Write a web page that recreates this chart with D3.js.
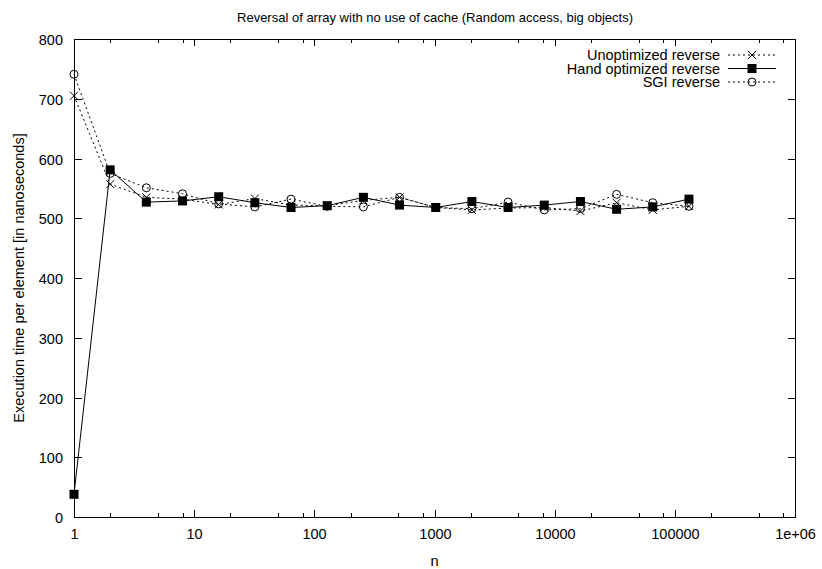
<!DOCTYPE html>
<html>
<head>
<meta charset="utf-8">
<script src="https://cdn.jsdelivr.net/npm/d3@7"></script>
<style>
  body { margin: 0; background: #fff; }
  svg { display: block; font-family: "Liberation Sans", Arial, sans-serif; }
</style>
</head>
<body>
<div id="chart"></div>
<script>
var title = "Reversal of array with no use of cache (Random access, big objects)";
var sizes = [1, 2, 4, 8, 16, 32, 64, 128, 256, 512, 1024, 2048, 4096, 8192, 16384, 32768, 65536, 131072];
var unoptimized = [705, 557, 535, 532, 523, 533, 522, 521, 530, 535, 518, 514, 517, 518, 512, 526, 514, 520];
var handOptimized = [38, 581, 527, 529, 536, 526, 518, 521, 535, 522, 518, 528, 518, 522, 528, 515, 519, 532];
var sgi = [741, 575, 551, 541, 524, 519, 532, 520, 519, 535, 518, 516, 527, 514, 516, 540, 526, 520];
var xTicks = [1, 10, 100, 1000, 10000, 100000, 1000000];
var xTickLabels = ["1", "10", "100", "1000", "10000", "100000", "1e+06"];
var yTicks = [0, 100, 200, 300, 400, 500, 600, 700, 800];
var minorSteps = [2, 5, 8];

var series = [
    {name: "Unoptimized reverse", values: unoptimized, dash: "2,3", marker: "cross"},
    {name: "Hand optimized reverse", values: handOptimized, dash: null, marker: "square"},
    {name: "SGI reverse", values: sgi, dash: "2,3", marker: "circle"}
];

var width = 822, height = 569;
var box = {xmin: 74, xmax: 795, ymin: 39, ymax: 517};

var svg = d3.select("#chart").append("svg")
    .attr("width", width)
    .attr("height", height);

var x = d3.scaleLog().domain([1, 1e6]).range([box.xmin, box.xmax]);
var y = d3.scaleLinear().domain([0, 800]).range([box.ymax, box.ymin]);

var fontSize = "14.5px";

// title
svg.append("text")
    .attr("x", 435)
    .attr("y", 22)
    .attr("text-anchor", "middle")
    .style("font-size", "13px")
    .text(title);

// frame
svg.append("rect")
    .attr("x", box.xmin + 0.5)
    .attr("y", box.ymin + 0.5)
    .attr("width", box.xmax - box.xmin)
    .attr("height", box.ymax - box.ymin)
    .attr("fill", "none")
    .attr("stroke", "#000")
    .attr("stroke-width", 1);

// y ticks (left and right)
var yt = svg.append("g");
yTicks.forEach(function(v) {
    var py = Math.round(y(v)) + 0.5;
    yt.append("line").attr("x1", box.xmin).attr("x2", box.xmin + 8)
        .attr("y1", py).attr("y2", py).attr("stroke", "#000");
    yt.append("line").attr("x1", box.xmax + 1).attr("x2", box.xmax - 7)
        .attr("y1", py).attr("y2", py).attr("stroke", "#000");
    yt.append("text")
        .attr("x", box.xmin - 11)
        .attr("y", py + 5)
        .attr("text-anchor", "end")
        .style("font-size", fontSize)
        .text(v);
});

// x ticks, major + minor, bottom and top
var xt = svg.append("g");
xTicks.forEach(function(v, i) {
    var px = Math.round(x(v)) + 0.5;
    xt.append("line").attr("x1", px).attr("x2", px)
        .attr("y1", box.ymax).attr("y2", box.ymax - 7).attr("stroke", "#000");
    xt.append("line").attr("x1", px).attr("x2", px)
        .attr("y1", box.ymin).attr("y2", box.ymin + 7).attr("stroke", "#000");
    xt.append("text")
        .attr("x", px)
        .attr("y", box.ymax + 22)
        .attr("text-anchor", "middle")
        .style("font-size", fontSize)
        .text(xTickLabels[i]);
    if (i < xTicks.length - 1) {
        minorSteps.forEach(function(m) {
            var mx = Math.round(x(v * m)) + 0.5;
            xt.append("line").attr("x1", mx).attr("x2", mx)
                .attr("y1", box.ymax).attr("y2", box.ymax - 4).attr("stroke", "#000");
            xt.append("line").attr("x1", mx).attr("x2", mx)
                .attr("y1", box.ymin).attr("y2", box.ymin + 4).attr("stroke", "#000");
        });
    }
});

// axis titles
svg.append("text")
    .attr("x", (box.xmin + box.xmax) / 2)
    .attr("y", 566)
    .attr("text-anchor", "middle")
    .style("font-size", fontSize)
    .text("n");

svg.append("text")
    .attr("transform", "translate(24," + ((box.ymin + box.ymax) / 2) + ") rotate(-90)")
    .attr("text-anchor", "middle")
    .style("font-size", fontSize)
    .text("Execution time per element [in nanoseconds]");

function drawMarker(g, type, cx, cy) {
    if (type === "cross") {
        g.append("path")
            .attr("d", "M" + (cx - 4) + "," + (cy - 4) + "L" + (cx + 4) + "," + (cy + 4) +
                       "M" + (cx - 4) + "," + (cy + 4) + "L" + (cx + 4) + "," + (cy - 4))
            .attr("stroke", "#000").attr("fill", "none");
    } else if (type === "square") {
        g.append("rect")
            .attr("x", cx - 4.5).attr("y", cy - 4.5)
            .attr("width", 9).attr("height", 9)
            .attr("fill", "#000");
    } else {
        g.append("circle")
            .attr("cx", cx).attr("cy", cy).attr("r", 4)
            .attr("fill", "none").attr("stroke", "#000");
    }
}

var line = d3.line()
    .x(function(d) { return x(d[0]); })
    .y(function(d) { return y(d[1]); });

series.forEach(function(s) {
    var pts = sizes.map(function(n, i) { return [n, s.values[i]]; });
    var g = svg.append("g");
    g.append("path")
        .datum(pts)
        .attr("d", line)
        .attr("fill", "none")
        .attr("stroke", "#000")
        .attr("stroke-width", 1)
        .attr("stroke-dasharray", s.dash);
    pts.forEach(function(p) {
        drawMarker(g, s.marker, x(p[0]), y(p[1]));
    });
});

// legend
var legend = svg.append("g");
series.forEach(function(s, i) {
    var ly = 55 + i * 13.5;
    legend.append("text")
        .attr("x", 720)
        .attr("y", ly + 5)
        .attr("text-anchor", "end")
        .style("font-size", fontSize)
        .text(s.name);
    legend.append("line")
        .attr("x1", 728).attr("x2", 776)
        .attr("y1", ly).attr("y2", ly)
        .attr("stroke", "#000")
        .attr("stroke-dasharray", s.dash);
    drawMarker(legend, s.marker, 752, ly);
});
</script>
</body>
</html>
